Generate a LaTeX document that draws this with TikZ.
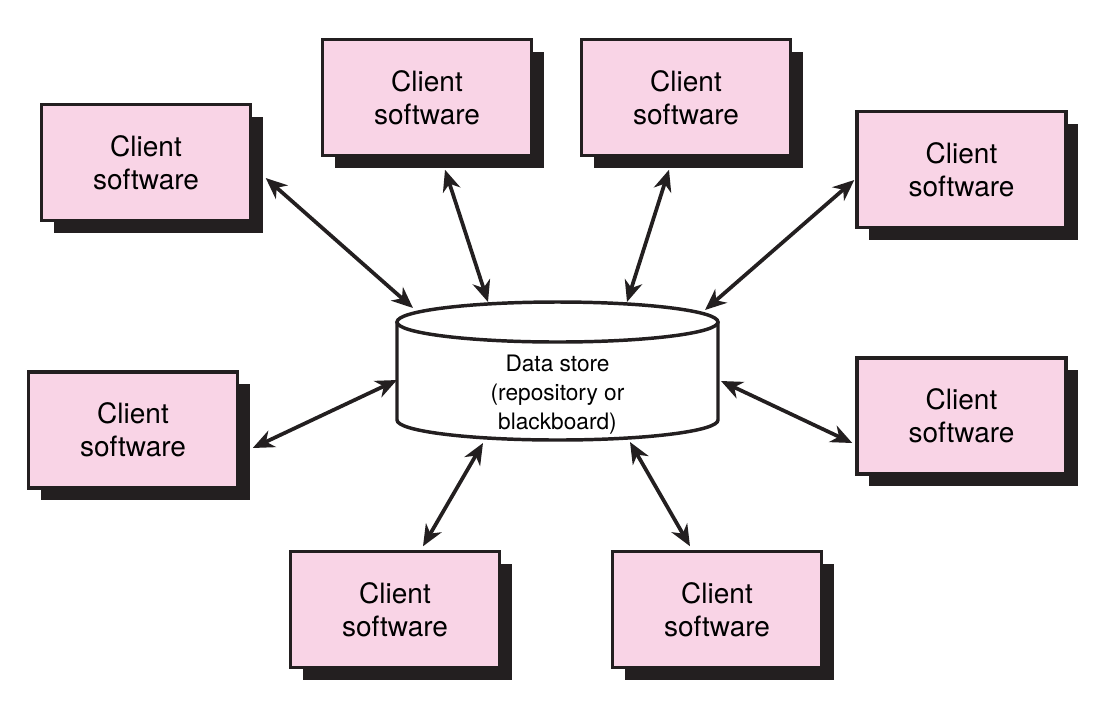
\documentclass[tikz,border=0pt]{standalone}
\usepackage{fontspec}
\setmainfont{TeX Gyre Heros}
\usetikzlibrary{arrows.meta,calc,shadows}
\definecolor{clientpink}{RGB}{249,212,230}
\definecolor{shadowgray}{RGB}{35,31,32}

\begin{document}
\begin{tikzpicture}[x=0.75pt, y=-0.75pt]
  \tikzset{
    client/.style={draw=shadowgray, line width=2.6pt, fill=clientpink, minimum width=156.75pt, minimum height=87pt,
      align=center, font=\fontsize{21}{24.75}\selectfont, inner sep=0pt,
      drop shadow={shadow xshift=9pt, shadow yshift=-9pt, fill=shadowgray, opacity=1}},
    link/.style={line width=2.8pt, shadowgray, {Stealth[length=16pt,width=13.5pt,inset=5pt]}-{Stealth[length=16pt,width=13.5pt,inset=5pt]}}
  }
  \useasboundingbox (0,0) rectangle (1109,719);

  % data store
  \draw[line width=2.6pt, draw=shadowgray, fill=white] (397,322) -- (397,420)
    arc[start angle=180, end angle=360, x radius=120.375pt, y radius=15pt] -- (718,322);
  \draw[line width=2.6pt, draw=shadowgray, fill=white] (557.5,322) ellipse [x radius=120.375pt, y radius=15pt];
  \node[align=center, font=\fontsize{17}{21.75}\selectfont] (store) at (557.5,395) {Data store\\(repository or\\blackboard)};

  \node[client] (cA) at (146,162.5) {Client\\software};
  \node[client] (cB) at (427,97.5)  {Client\\software};
  \node[client] (cC) at (686,97.5)  {Client\\software};
  \node[client] (cD) at (961.5,169.5) {Client\\software};
  \node[client] (cE) at (133,430)   {Client\\software};
  \node[client] (cF) at (961.5,416) {Client\\software};
  \node[client] (cG) at (395,609.5) {Client\\software};
  \node[client] (cH) at (717,609.5) {Client\\software};

  % ends on the cylinder
  \coordinate (sA) at ($(store)+(-144.5,-87)$);
  \coordinate (sB) at ($(store)+(-69.5,-93)$);
  \coordinate (sC) at ($(store)+(69.5,-93)$);
  \coordinate (sD) at ($(store)+(147.5,-85)$);
  \coordinate (sE) at ($(store)+(-160.5,-15)$);
  \coordinate (sF) at ($(store)+(163.5,-14)$);
  \coordinate (sG) at ($(store)+(-74.5,48)$);
  \coordinate (sH) at ($(store)+(72.5,47)$);

  \draw[link] ($(cA.east)+(13.5,15.5)$) -- (sA);
  \draw[link] ($(cB.south)+(18,12.5)$) -- (sB);
  \draw[link] ($(cC.south)+(-17,12.5)$) -- (sC);
  \draw[link] ($(cD.west)+(-1,10.5)$) -- (sD);
  \draw[link] ($(cE.east)+(13.5,18)$) -- (sE);
  \draw[link] ($(cF.west)+(-3,27)$) -- (sF);
  \draw[link] ($(cG.north)+(28,-3.5)$) -- (sG);
  \draw[link] ($(cH.north)+(-27,-3.5)$) -- (sH);
\end{tikzpicture}
\end{document}
